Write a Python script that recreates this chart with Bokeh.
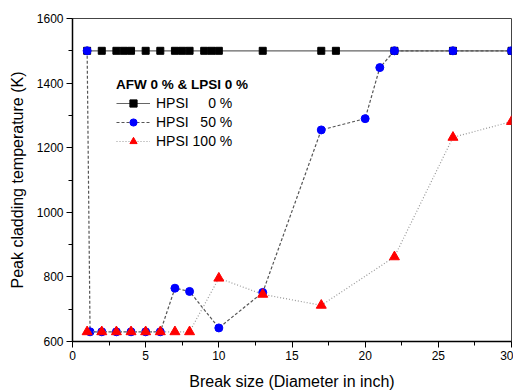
from bokeh.plotting import figure
from bokeh.models import Legend, LegendItem, FixedTicker
from bokeh.embed import file_html
from bokeh.resources import INLINE

# Data
x_hpsi0 = [1, 2, 3, 3.5, 4, 5, 6, 7, 7.5, 8, 9, 9.5, 10, 13, 17, 18, 22, 26, 30]
y_hpsi0 = [1500] * len(x_hpsi0)

x_hpsi50 = [1, 1.2, 2, 3, 4, 5, 6, 7, 8, 10, 13, 17, 20, 21, 22, 26, 30]
y_hpsi50 = [1500, 630, 630, 630, 630, 630, 630, 765, 755, 642, 752, 1255, 1290, 1448, 1500, 1500, 1500]

x_hpsi100 = [1, 2, 3, 4, 5, 6, 7, 8, 10, 13, 17, 22, 26, 30]
y_hpsi100 = [630, 630, 630, 630, 630, 630, 630, 630, 796, 746, 712, 862, 1232, 1281]

x_ticks = [0, 5, 10, 15, 20, 25, 30]
y_ticks = [600, 800, 1000, 1200, 1400, 1600]

FONT = "Liberation Sans"

p = figure(width=513, height=392, x_range=(0, 30), y_range=(600, 1600),
           output_backend="svg", toolbar_location=None,
           min_border_left=72, min_border_right=2, min_border_top=18, min_border_bottom=49)
p.grid.visible = False
p.outline_line_color = "#444444"
p.outline_line_width = 1
p.background_fill_color = "white"
p.border_fill_color = "white"

p.xaxis.ticker = FixedTicker(ticks=x_ticks, minor_ticks=[2.5, 7.5, 12.5, 17.5, 22.5, 27.5])
p.yaxis.ticker = FixedTicker(ticks=y_ticks, minor_ticks=[700, 900, 1100, 1300, 1500])
for ax in (p.xaxis[0], p.yaxis[0]):
    ax.axis_line_color = "black"
    ax.axis_line_width = 1.5
    ax.major_tick_line_color = "black"
    ax.minor_tick_line_color = "black"
    ax.major_tick_out = 6
    ax.major_tick_in = 0
    ax.minor_tick_out = 4
    ax.minor_tick_in = 0
    ax.major_label_text_font = FONT
    ax.major_label_text_font_size = "12px"
    ax.major_label_text_color = "black"
    ax.axis_label_text_font = FONT
    ax.axis_label_text_font_size = "16px"
    ax.axis_label_text_font_style = "normal"
    ax.axis_label_text_color = "black"
    ax.major_label_standoff = 3

p.xaxis.axis_label = "Break size (Diameter in inch)"
p.yaxis.axis_label = "Peak cladding temperature (K)"
p.xaxis.axis_label_standoff = 10
p.yaxis.axis_label_standoff = 8

l0 = p.line(x_hpsi0, y_hpsi0, line_color="#666666", line_width=1.2)
s0 = p.scatter(x_hpsi0, y_hpsi0, marker="square", size=7, fill_color="black", line_color="black")

l1 = p.line(x_hpsi50, y_hpsi50, line_color="#555555", line_width=1.2, line_dash="3 2")
s1 = p.scatter(x_hpsi50, y_hpsi50, marker="circle", size=8, fill_color="blue", line_color="blue")

l2 = p.line(x_hpsi100, y_hpsi100, line_color="#999999", line_width=1.2, line_dash="1 2")
s2 = p.scatter(x_hpsi100, y_hpsi100, marker="triangle", size=10, fill_color="red", line_color="red")

legend = Legend(items=[
    LegendItem(label="HPSI \u2007\u20070 %", renderers=[l0, s0]),
    LegendItem(label="HPSI \u200750 %", renderers=[l1, s1]),
    LegendItem(label="HPSI 100 %", renderers=[l2, s2]),
], location=(44, 191))
legend.title = "AFW 0 % & LPSI 0 %"
legend.title_text_font = FONT
legend.title_text_font_size = "13.5px"
legend.title_text_font_style = "bold"
legend.title_text_color = "black"
legend.title_standoff = 2
legend.label_text_font = FONT
legend.label_text_font_size = "14px"
legend.label_text_color = "black"
legend.glyph_width = 34
legend.glyph_height = 18
legend.label_height = 18
legend.label_standoff = 6
legend.spacing = 1
legend.padding = 0
legend.margin = 0
legend.border_line_alpha = 0
legend.background_fill_alpha = 0
p.add_layout(legend, "center")

open("out.html", "w").write(file_html(p, INLINE))
